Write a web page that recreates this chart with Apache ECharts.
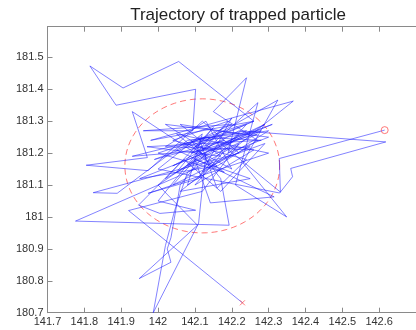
<!DOCTYPE html>
<html><head><meta charset="utf-8">
<script src="https://cdn.jsdelivr.net/npm/echarts@6/dist/echarts.min.js"></script>
<style>html,body{margin:0;padding:0;background:#fff}#c{width:416px;height:330px}</style>
</head><body><div id="c"></div>
<script>
const titleText = 'Trajectory of trapped particle';
const xTickValues = [141.7,141.8,141.9,142,142.1,142.2,142.3,142.4,142.5,142.6];
const yTickValues = [180.7,180.8,180.9,181,181.1,181.2,181.3,181.4,181.5];
// trajectory (x, y) in order
const trajX = [142.615,142.329,142.332,142.17,142.31,142.04,142.22,142.618,142.36,142.365,142.33,142.0,142.12,142.08,142.27,142.15,142.24,142.19,142.3,142.02,142.13,142.271,142.21,142.349,142.23,142.325,142.1,142.26,141.98,142.367,142.06,142.25,142.1,142.142,142.315,142.05,142.2,141.96,142.094,142.102,141.886,141.815,141.905,142.056,142.26,142.0,142.18,141.93,141.971,141.805,141.973,142.12,142.22,141.824,141.889,142.08,142.28,141.95,142.16,142.05,142.3,141.973,142.11,142.2,142.04,142.25,141.93,142.14,142.0,142.102,142.005,141.947,142.07,142.17,142.29,142.1,141.776,142.193,142.17,142.09,142.24,142.02,
  142.15,142.05,142.27,142.09,142.18,141.99,142.24,142.12,142.3,142.07,142.2,142.13,142.02,142.26,142.1,142.22,142.06,142.17,141.97,142.28,142.11,142.16,142.24,142.04,142.19,142.08,142.29,142.14,142.0,
  142.107,141.949,142.035,142.025,142.035,142.06,142.13,142.11,141.987,142.02,142.045,142.08,142.22,142.12,141.92,142.229];
const trajY = [181.272,181.183,181.078,181.23,181.29,181.16,181.27,181.235,181.152,181.126,181.075,181.15,181.26,181.1,181.24,181.33,181.436,181.2,181.25,181.29,181.21,181.358,181.1,181.0,181.17,181.366,181.22,181.3,181.24,181.363,181.08,181.12,181.18,181.044,181.063,181.21,181.29,181.27,181.27,181.40,181.35,181.473,181.404,181.487,181.3,181.2,181.14,181.33,181.186,181.162,181.145,181.3,181.2,181.076,181.074,181.24,181.27,181.12,181.16,181.26,181.2,181.074,181.12,181.31,181.1,181.22,181.19,181.25,181.05,181.021,181.011,181.037,181.18,181.08,181.23,181.15,180.987,180.974,181.12,181.24,181.27,181.12,
  181.28,181.14,181.26,181.2,181.24,181.18,181.29,181.14,181.27,181.23,181.15,181.3,181.22,181.21,181.1,181.26,181.29,181.19,181.22,181.24,181.25,181.09,181.18,181.24,181.3,181.16,181.29,181.21,181.1,
  180.974,180.807,180.858,180.9,180.935,181.1,181.2,180.98,180.70,180.91,181.02,181.14,181.23,181.08,181.02,180.731];
const startPoint = [142.615, 181.272];
const endPoint = [142.229, 180.731];
const circleCenter = [142.12, 181.16];
const circleRadius = 0.21;

const traj = trajX.map((x, i) => [x, trajY[i]]);
const circle = [];
for (let k = 0; k <= 120; k++) {
  const a = k / 120 * 2 * Math.PI;
  circle.push([circleCenter[0] + circleRadius * Math.cos(a), circleCenter[1] + circleRadius * Math.sin(a)]);
}
const fmt = v => String(+(+v).toFixed(1));
const axisCol = '#8a8a8a';
const chart = echarts.init(document.getElementById('c'));
chart.setOption({
  animation: false,
  title: { text: titleText, left: 233, top: 2, textAlign: 'center',
    textStyle: { fontFamily: 'Liberation Sans', fontSize: 17, fontWeight: 'normal', color: '#222' } },
  grid: { left: 47.5, top: 26.7, width: 375, height: 286, containLabel: false },
  xAxis: [{
    type: 'value', min: 141.7, max: 142.7, interval: 0.1, position: 'bottom',
    axisLine: { show: true, lineStyle: { color: axisCol, width: 1 } },
    axisTick: { show: true, inside: true, length: 5, lineStyle: { color: axisCol } },
    axisLabel: { formatter: fmt, color: '#333', fontSize: 11, fontFamily: 'Liberation Sans', margin: 4, showMaxLabel: false },
    splitLine: { show: false }
  }, {
    type: 'value', min: 141.7, max: 142.7, interval: 0.1, position: 'top',
    axisLine: { show: true, onZero: false, lineStyle: { color: axisCol, width: 1 } },
    axisTick: { show: true, inside: true, length: 5, lineStyle: { color: axisCol } },
    axisLabel: { show: false }, splitLine: { show: false }
  }],
  yAxis: {
    type: 'value', min: 180.7, max: 181.596, interval: 0.1,
    axisLine: { show: true, onZero: false, lineStyle: { color: axisCol, width: 1 } },
    axisTick: { show: true, inside: true, length: 5, lineStyle: { color: axisCol } },
    axisLabel: { formatter: fmt, color: '#333', fontSize: 11, fontFamily: 'Liberation Sans', margin: 4, showMaxLabel: false },
    splitLine: { show: false }
  },
  series: [{
    type: 'line', data: circle, showSymbol: false, smooth: false,
    lineStyle: { color: 'rgba(255,60,60,0.7)', width: 1, type: [6, 4] }, z: 1
  }, {
    type: 'line', data: traj, showSymbol: false, smooth: false,
    lineStyle: { color: 'rgba(30,30,255,0.55)', width: 1 }, z: 2
  }, {
    type: 'scatter', data: [startPoint], symbol: 'circle', symbolSize: 7,
    itemStyle: { color: 'rgba(0,0,0,0)', borderColor: 'rgba(255,60,60,0.85)', borderWidth: 1 }, z: 3
  }, {
    type: 'scatter', data: [endPoint], symbol: 'path://M0,0L10,10M10,0L0,10', symbolSize: 5,
    itemStyle: { color: 'none', borderColor: 'rgba(255,60,60,0.85)', borderWidth: 1 }, z: 3
  }]
});
</script></body></html>
